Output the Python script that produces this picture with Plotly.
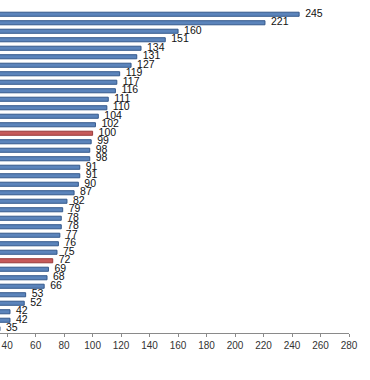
import plotly.graph_objects as go

values = [245, 221, 160, 151, 134, 131, 127, 119, 117, 116, 111, 110, 104, 102,
          100, 99, 98, 98, 91, 91, 90, 87, 82, 79, 78, 78, 77, 76, 75, 72,
          69, 68, 66, 53, 52, 42, 42, 35]
categories = [str(i + 1) for i in range(len(values))]
highlight = [100, 72]
tick_values = list(range(40, 281, 20))

blue_fill, blue_line = "#5b84bb", "#34598c"
red_fill, red_line = "#c65a5a", "#9a3a3a"
fills = [red_fill if v in highlight else blue_fill for v in values]
lines = [red_line if v in highlight else blue_line for v in values]

fig = go.Figure()
fig.add_trace(go.Bar(
    x=values, y=categories, orientation="h",
    marker=dict(color=fills, line=dict(color=lines, width=1)),
    hoverinfo="skip",
))
fig.add_trace(go.Scatter(
    x=values, y=categories, mode="markers+text",
    marker=dict(size=8, opacity=0),
    text=[str(v) for v in values], textposition="middle right",
    textfont=dict(family="Liberation Sans, Arial, sans-serif", size=10.5, color="#111"),
    cliponaxis=False, hoverinfo="skip",
))

n = len(categories)
fig.update_layout(
    width=370, height=380,
    margin=dict(l=0, r=21, t=10, b=47, autoexpand=False),
    paper_bgcolor="white", plot_bgcolor="white",
    showlegend=False, bargap=0.52,
    xaxis=dict(range=[34.99, 280], tickvals=tick_values, showgrid=False, zeroline=False,
               showline=True, linecolor="#8a8a8a", linewidth=1,
               ticks="outside", ticklen=3, tickcolor="#8a8a8a",
               tickfont=dict(family="Liberation Sans, Arial, sans-serif", size=10, color="#333")),
    yaxis=dict(range=[n - 0.5, -0.5], showticklabels=False, showgrid=False,
               zeroline=False, showline=False, ticks=""),
)

fig.write_html("out.html", config={"displayModeBar": False},
               post_script="document.body.style.margin='0';")
